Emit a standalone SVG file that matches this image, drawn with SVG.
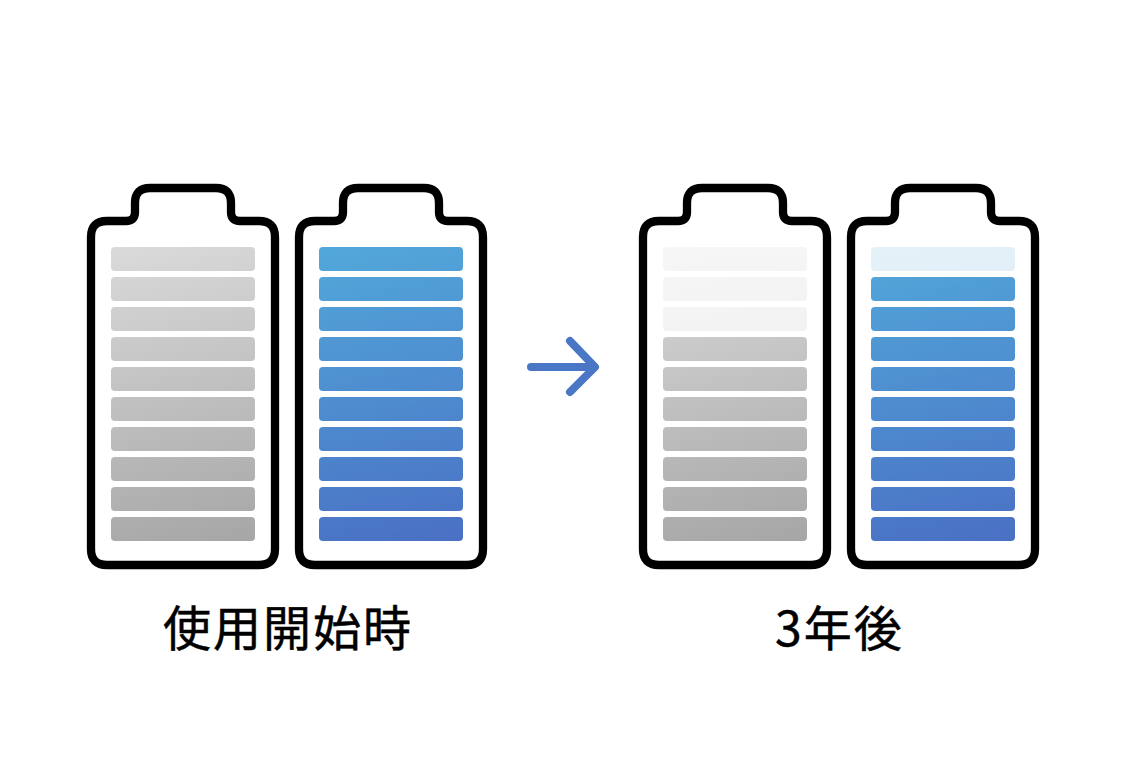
<svg xmlns="http://www.w3.org/2000/svg" width="1128" height="758" viewBox="0 0 1128 758">
<style>
.shell{fill:#fff;stroke:#000;stroke-width:8.3;stroke-linejoin:round}
.label{font-family:"Noto Sans CJK JP","Noto Sans",sans-serif;font-size:48px;font-weight:400;fill:#000;stroke:#000;stroke-width:.5px;letter-spacing:2px}
.faded-g{opacity:.22}
.faded-b{opacity:.16}
.arrow{fill:none;stroke:#4a76c6;stroke-width:8;stroke-linecap:round;stroke-linejoin:round}
.g{fill:url(#gray)}
.b{fill:url(#blue)}
</style>
<defs>
<linearGradient id="gray" gradientUnits="userSpaceOnUse" x1="150" y1="240" x2="216" y2="548">
<stop offset="0" stop-color="#dadada"/><stop offset="1" stop-color="#a6a6a6"/>
</linearGradient>
<linearGradient id="blue" gradientUnits="userSpaceOnUse" x1="150" y1="240" x2="216" y2="548">
<stop offset="0" stop-color="#52a8da"/><stop offset="1" stop-color="#4a70c4"/>
</linearGradient>
<path id="shell" class="shell" d="M107 221H126Q135 221 135 212V203Q135 188 150 188H216Q231 188 231 203V212Q231 221 240 221H259Q275 221 275 237V549Q275 565 259 565H107Q91 565 91 549V237Q91 221 107 221Z"/>
</defs>
<rect width="1128" height="758" fill="#fff"/>
<g id="battery-start-gray">
<use href="#shell"/>
<g class="g">
<rect x="111" y="247" width="144" height="24" rx="4"/><rect x="111" y="277" width="144" height="24" rx="4"/><rect x="111" y="307" width="144" height="24" rx="4"/><rect x="111" y="337" width="144" height="24" rx="4"/><rect x="111" y="367" width="144" height="24" rx="4"/><rect x="111" y="397" width="144" height="24" rx="4"/><rect x="111" y="427" width="144" height="24" rx="4"/><rect x="111" y="457" width="144" height="24" rx="4"/><rect x="111" y="487" width="144" height="24" rx="4"/><rect x="111" y="517" width="144" height="24" rx="4"/>
</g>
</g>
<g id="battery-start-blue" transform="translate(208 0)">
<use href="#shell"/>
<g class="b">
<rect x="111" y="247" width="144" height="24" rx="4"/><rect x="111" y="277" width="144" height="24" rx="4"/><rect x="111" y="307" width="144" height="24" rx="4"/><rect x="111" y="337" width="144" height="24" rx="4"/><rect x="111" y="367" width="144" height="24" rx="4"/><rect x="111" y="397" width="144" height="24" rx="4"/><rect x="111" y="427" width="144" height="24" rx="4"/><rect x="111" y="457" width="144" height="24" rx="4"/><rect x="111" y="487" width="144" height="24" rx="4"/><rect x="111" y="517" width="144" height="24" rx="4"/>
</g>
</g>
<g id="battery-after-gray" transform="translate(552 0)">
<use href="#shell"/>
<g class="g">
<g class="faded-g"><rect x="111" y="247" width="144" height="24" rx="4"/><rect x="111" y="277" width="144" height="24" rx="4"/><rect x="111" y="307" width="144" height="24" rx="4"/></g>
<rect x="111" y="337" width="144" height="24" rx="4"/><rect x="111" y="367" width="144" height="24" rx="4"/><rect x="111" y="397" width="144" height="24" rx="4"/><rect x="111" y="427" width="144" height="24" rx="4"/><rect x="111" y="457" width="144" height="24" rx="4"/><rect x="111" y="487" width="144" height="24" rx="4"/><rect x="111" y="517" width="144" height="24" rx="4"/>
</g>
</g>
<g id="battery-after-blue" transform="translate(760 0)">
<use href="#shell"/>
<g class="b">
<g class="faded-b"><rect x="111" y="247" width="144" height="24" rx="4"/></g>
<rect x="111" y="277" width="144" height="24" rx="4"/><rect x="111" y="307" width="144" height="24" rx="4"/><rect x="111" y="337" width="144" height="24" rx="4"/><rect x="111" y="367" width="144" height="24" rx="4"/><rect x="111" y="397" width="144" height="24" rx="4"/><rect x="111" y="427" width="144" height="24" rx="4"/><rect x="111" y="457" width="144" height="24" rx="4"/><rect x="111" y="487" width="144" height="24" rx="4"/><rect x="111" y="517" width="144" height="24" rx="4"/>
</g>
</g>
<g id="connectors">
<path class="arrow" d="M531 367H593M570 341L595 367L570 392"/>
</g>
<g id="label-start"><text class="label" x="163" y="646">使用開始時</text></g>
<g id="label-after"><text class="label" x="775" y="646">3年後</text></g>
</svg>
